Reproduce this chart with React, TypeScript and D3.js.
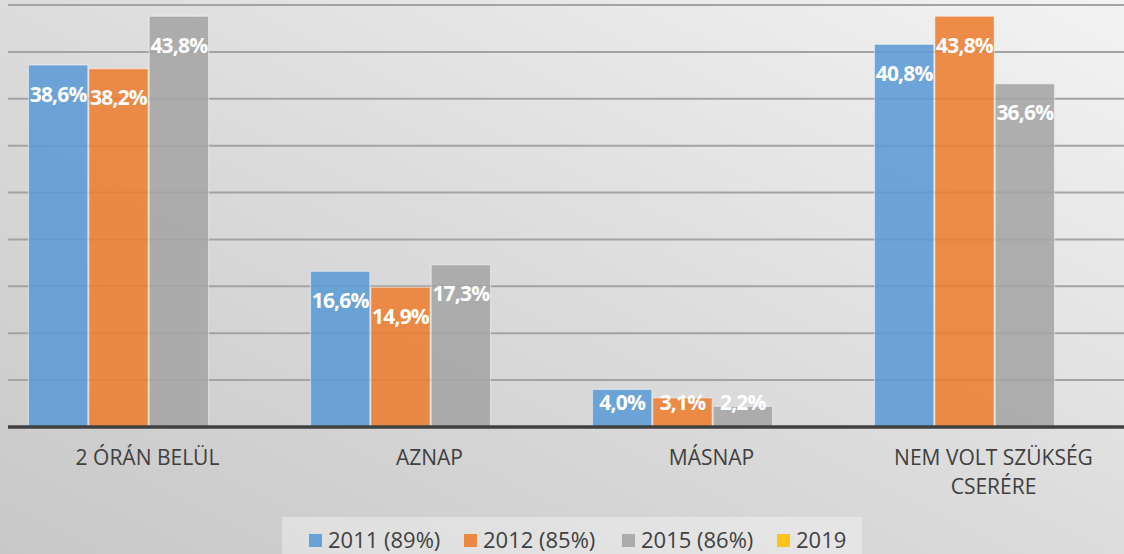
import * as d3 from "d3";

const categories = ["2 ÓRÁN BELÜL", "AZNAP", "MÁSNAP", "NEM VOLT SZÜKSÉG CSERÉRE"];
const categoryLines = [["2 ÓRÁN BELÜL"], ["AZNAP"], ["MÁSNAP"], ["NEM VOLT SZÜKSÉG", "CSERÉRE"]];
const seriesNames = ["2011 (89%)", "2012 (85%)", "2015 (86%)", "2019"];
const seriesColors = ["#5B9BD5", "#ED7D31", "#A5A5A5", "#FFC000"];
const values2011 = [38.6, 16.6, 4.0, 40.8];
const values2012 = [38.2, 14.9, 3.1, 43.8];
const values2015 = [43.8, 17.3, 2.2, 36.6];
const yTicks = [0, 5, 10, 15, 20, 25, 30, 35, 40, 45];

const W = 1124;
const H = 554;
const fmt = (v: number) => v.toFixed(1).replace(".", ",") + "%";

const App = () => {
  const barSeries = [values2011, values2012, values2015];
  const x0 = d3
    .scaleBand<string>()
    .domain(categories)
    .range([-22.5, 1105.5])
    .paddingInner(0.358)
    .paddingOuter(0.179);
  const x1 = d3
    .scaleBand<number>()
    .domain([0, 1, 2])
    .range([0, x0.bandwidth()]);
  const y = d3.scaleLinear().domain([0, 45]).range([427, 5]);

  // the category labels sit a little right of the bar groups in the original
  const labelShift = 29;
  const legendX = [309, 464, 622, 777];

  return (
    <svg
      width={W}
      height={H}
      style={{ position: "absolute", left: 0, top: 0, display: "block" }}
    >
      <defs>
        <linearGradient id="bg" x1="0" y1="1" x2="1" y2="0">
          <stop offset="0" stopColor="#c8c8c8" />
          <stop offset="0.5" stopColor="#dcdcdc" />
          <stop offset="1" stopColor="#f3f3f3" />
        </linearGradient>
      </defs>
      <rect width={W} height={H} fill="url(#bg)" />

      {/* gridlines */}
      {yTicks.slice(1).map((t) => (
        <line
          key={t}
          x1={8}
          x2={W}
          y1={y(t)}
          y2={y(t)}
          stroke="#a3a3a3"
          strokeWidth={2}
        />
      ))}

      {/* bars */}
      {barSeries.map((vals, si) =>
        vals.map((v, ci) => (
          <rect
            key={`${si}-${ci}`}
            x={(x0(categories[ci]) || 0) + (x1(si) || 0) + 0.5}
            y={y(v)}
            width={x1.bandwidth() - 1}
            height={y(0) - y(v)}
            fill={seriesColors[si]}
            fillOpacity={0.88}
            stroke="#ffffff"
            strokeOpacity={0.45}
            strokeWidth={1.2}
          />
        ))
      )}

      {/* axis line */}
      <line x1={8} x2={W} y1={427} y2={427} stroke="#404040" strokeWidth={3.5} />

      {/* data labels */}
      {barSeries.map((vals, si) =>
        vals.map((v, ci) => (
          <text
            key={`l-${si}-${ci}`}
            x={(x0(categories[ci]) || 0) + (x1(si) || 0) + x1.bandwidth() / 2}
            y={Math.min(y(v) + 29, 402)}
            dy="0.36em"
            textAnchor="middle"
            fill="#ffffff"
            fontFamily="'Open Sans', sans-serif"
            fontWeight="bold"
            fontSize={21}
            letterSpacing={-0.8}
          >
            {fmt(v)}
          </text>
        ))
      )}

      {/* category labels */}
      {categoryLines.map((lines, ci) => {
        const cx = (x0(categories[ci]) || 0) + x0.bandwidth() / 2 + labelShift;
        return (
          <text
            key={`c-${ci}`}
            y={465}
            textAnchor="middle"
            fill="#404040"
            fontFamily="'Open Sans', sans-serif"
            fontSize={21}
          >
            {lines.map((ln, li) => (
              <tspan key={li} x={cx} dy={li === 0 ? 0 : 29}>
                {ln}
              </tspan>
            ))}
          </text>
        );
      })}

      {/* legend */}
      <rect x={282} y={517} width={580} height={40} fill="#ffffff" fillOpacity={0.35} />
      {seriesNames.map((name, i) => (
        <g key={name} transform={`translate(${legendX[i]},548)`}>
          <rect x={0} y={-14} width={13} height={13} fill={seriesColors[i]} fillOpacity={0.9} />
          <text
            x={19}
            y={0}
            fill="#404040"
            fontFamily="'Open Sans', sans-serif"
            fontSize={22}
          >
            {name}
          </text>
        </g>
      ))}
    </svg>
  );
};

export default App;
